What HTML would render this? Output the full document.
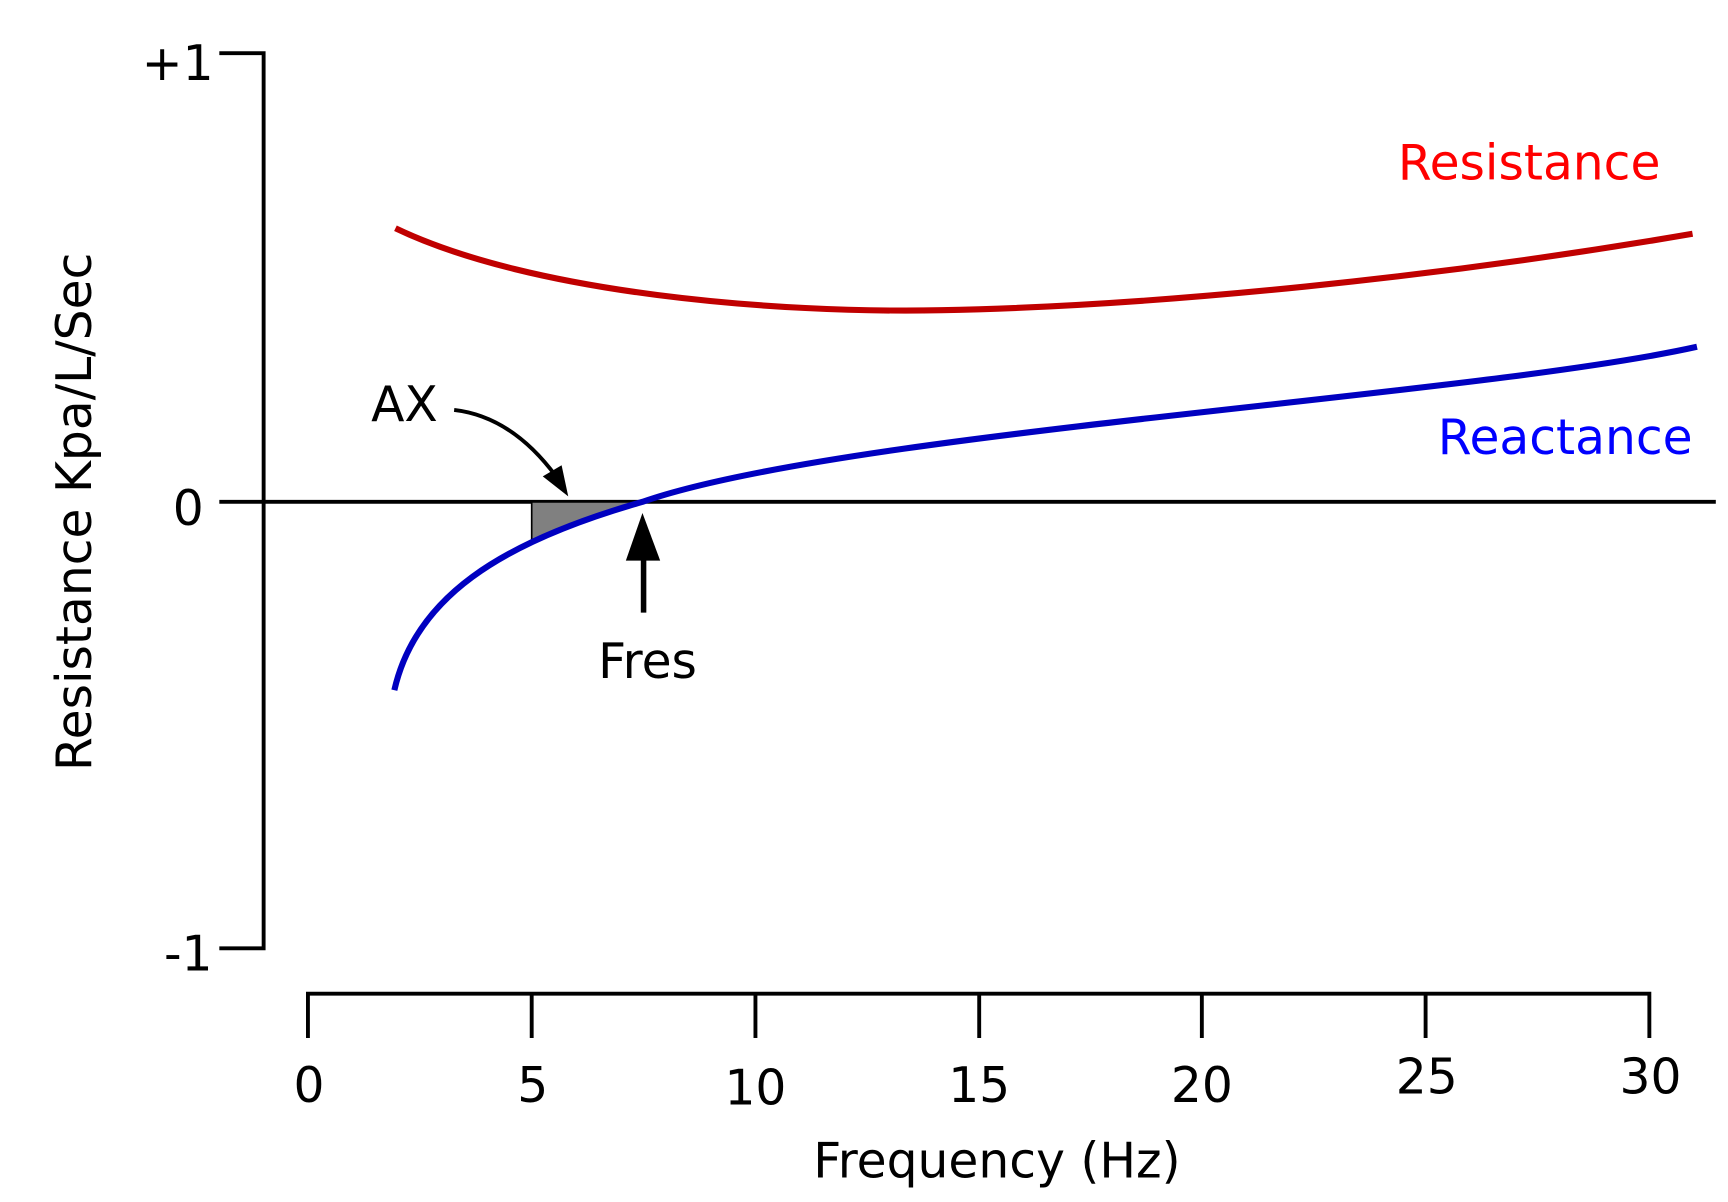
<!DOCTYPE html>
<html><head><style>html,body{margin:0;padding:0;background:#fff}svg{display:block}</style></head>
<body>
<svg width="1728" height="1202" viewBox="0 0 1560 1085" xmlns="http://www.w3.org/2000/svg" font-family="DejaVu Sans, Liberation Sans, sans-serif">
<g stroke="#000" stroke-width="3.5" fill="none">
<polyline points="198,48 238,48 238,856 198,856"/>
<line x1="198" y1="453" x2="1549" y2="453"/>
<polyline points="278,937 278,897 1489,897 1489,937"/>
<line x1="480" y1="897" x2="480" y2="937"/>
<line x1="682" y1="897" x2="682" y2="937"/>
<line x1="884" y1="897" x2="884" y2="937"/>
<line x1="1085" y1="897" x2="1085" y2="937"/>
<line x1="1287" y1="897" x2="1287" y2="937"/>
</g>
<path d="M480,453 L578,453 C530,467 500,478 480,490 Z" fill="#808080" stroke="#000" stroke-width="1.5"/>
<path d="M357,206 C480,265 700,283 850,280 C1050,276 1300,250 1528,211" fill="none" stroke="#c00000" stroke-width="5.5"/>
<path d="M356,623 C375,540 450,490 580,453 C760,390 1330,358 1532,313" fill="none" stroke="#0000c0" stroke-width="5.5"/>
<path d="M410,370 Q462,376 502,430" fill="none" stroke="#000" stroke-width="3.5"/>
<polygon points="513,448 490,430 507,420" fill="#000"/>
<line x1="581" y1="553" x2="581" y2="500" stroke="#000" stroke-width="5"/>
<polygon points="580,463 565,506 596,506" fill="#000"/>
<g font-size="44" fill="#000">
<text x="128" y="72">+1</text>
<text x="156" y="474">0</text>
<text x="148" y="876">-1</text>
<text x="279" y="995" text-anchor="middle">0</text>
<text x="481" y="995" text-anchor="middle">5</text>
<text x="682" y="997" text-anchor="middle">10</text>
<text x="884" y="995" text-anchor="middle">15</text>
<text x="1085" y="995" text-anchor="middle">20</text>
<text x="1288" y="987" text-anchor="middle">25</text>
<text x="1490" y="987" text-anchor="middle">30</text>
<text x="900" y="1063" text-anchor="middle">Frequency (Hz)</text>
<text x="335" y="380">AX</text>
<text x="540" y="612">Fres</text>
<text transform="translate(82,462) rotate(-90)" text-anchor="middle">Resistance Kpa/L/Sec</text>
<text x="1262" y="162" fill="#ff0000">Resistance</text>
<text x="1298" y="410" fill="#0000ff">Reactance</text>
</g>
</svg>
</body></html>
